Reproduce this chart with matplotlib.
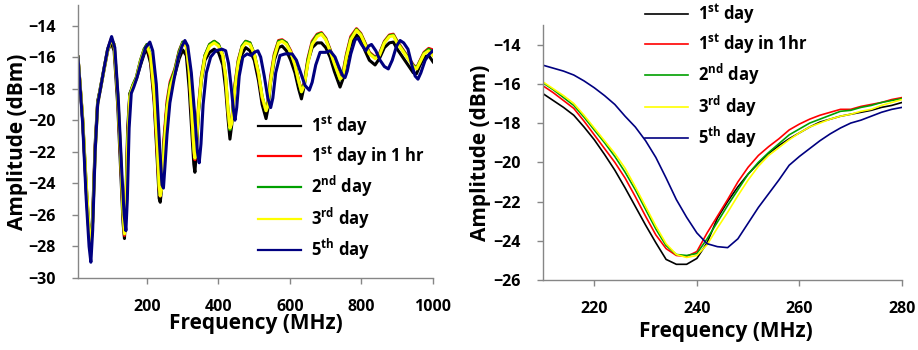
import numpy as np
import matplotlib
matplotlib.use("Agg")
import matplotlib.pyplot as plt

plt.rcParams['font.family'] = ['Open Sans', 'DejaVu Sans']
plt.rcParams['font.weight'] = 'bold'
plt.rcParams['mathtext.fontset'] = 'custom'
plt.rcParams['mathtext.rm'] = 'Open Sans:bold'
plt.rcParams['mathtext.it'] = 'Open Sans:bold'
plt.rcParams['mathtext.bf'] = 'Open Sans:bold'
plt.rcParams['mathtext.default'] = 'rm'

# -------------------------------
# Data: full sweep (left panel)
# -------------------------------
freq_full = [7, 20, 30, 38, 43, 48, 55, 62, 70, 80,
             90, 100, 108, 118, 127, 133, 137, 141, 146, 152,
             160, 170, 182, 192, 200, 210, 220, 228, 234, 237,
             242, 248, 256, 265, 278, 290, 300, 310, 318, 326,
             331, 334, 338, 344, 352, 362, 375, 388, 400, 412,
             420, 427, 432, 437, 445, 455, 466, 476, 488, 500,
             512, 522, 533, 538, 546, 556, 568, 578, 590, 602,
             614, 624, 632, 640, 650, 662, 676, 688, 700, 712,
             724, 740, 748, 758, 770, 786, 798, 810, 822, 838,
             850, 864, 878, 889, 900, 915, 930, 945, 954, 962,
             975, 988, 1000]

day1_full = [-16.0, -20.0, -24.5, -27.3, -28.0, -26.0, -21.5, -18.8, -18.0, -16.8,
             -15.6, -15.1, -15.6, -19.0, -23.5, -26.5, -27.5, -25.0, -20.5, -18.3,
             -17.9, -17.4, -16.5, -15.8, -15.5, -16.4, -18.85, -22.25, -24.95, -25.2,
             -24.1, -21.25, -19.15, -17.85, -17.1, -16.1, -15.55, -15.9, -18.0, -21.0,
             -22.8, -23.3, -22.0, -19.5, -17.5, -16.2, -15.7, -15.5, -15.7, -16.5,
             -18.0, -20.0, -21.2, -20.3, -18.2, -16.6, -15.8, -15.4, -15.6, -16.2,
             -17.5, -19.0, -19.9, -19.3, -17.6, -16.2, -15.4, -15.3, -15.6, -16.2,
             -17.0, -18.0, -18.65, -17.8, -16.3, -15.4, -15.1, -15.1, -15.4, -16.0,
             -16.9, -17.9, -17.4, -16.2, -15.2, -14.6, -14.9, -15.6, -16.2, -16.5,
             -16.1, -15.4, -15.1, -15.05, -15.5, -16.0, -16.5, -17.0, -17.05, -16.6,
             -16.0, -15.9, -16.3]

day1hr_full = [-16.0, -19.9, -24.2, -27.1, -28.0, -26.4, -21.8, -18.9, -17.9, -16.7,
               -15.5, -14.85, -15.2, -18.4, -22.8, -26.0, -27.3, -25.5, -21.0, -18.4,
               -17.8, -17.3, -16.2, -15.5, -15.2, -16.1, -18.6, -21.75, -24.4, -24.8,
               -23.6, -21.0, -18.8, -17.55, -16.75, -15.6, -15.05, -15.3, -17.0, -20.1,
               -22.0, -22.5, -21.4, -19.1, -17.2, -15.9, -15.2, -15.0, -15.2, -15.9,
               -17.4, -19.6, -20.6, -20.0, -17.9, -16.2, -15.3, -15.0, -15.1, -15.8,
               -17.1, -18.6, -19.4, -18.9, -17.2, -15.8, -14.95, -14.9, -15.1, -15.6,
               -16.5, -17.5, -18.1, -17.6, -16.1, -15.0, -14.55, -14.45, -14.8, -15.5,
               -16.3, -17.3, -17.0, -15.8, -14.7, -14.2, -14.5, -15.1, -15.7, -16.0,
               -15.8, -15.0, -14.6, -14.55, -15.0, -15.5, -16.0, -16.5, -16.7, -16.3,
               -15.7, -15.45, -15.55]

day2_full = [-16.0, -19.9, -24.1, -27.0, -28.0, -26.4, -21.9, -18.9, -17.9, -16.7,
             -15.5, -14.9, -15.2, -18.3, -22.6, -25.9, -27.2, -25.6, -21.2, -18.4,
             -17.8, -17.3, -16.2, -15.5, -15.2, -15.95, -18.35, -21.4, -24.25, -24.75,
             -23.9, -21.4, -19.05, -17.7, -16.8, -15.65, -15.05, -15.2, -16.9, -19.9,
             -21.9, -22.4, -21.5, -19.3, -17.3, -15.9, -15.2, -15.0, -15.2, -15.9,
             -17.3, -19.5, -20.6, -20.1, -18.0, -16.3, -15.3, -15.0, -15.1, -15.8,
             -17.0, -18.5, -19.4, -19.0, -17.4, -15.9, -15.0, -14.95, -15.1, -15.7,
             -16.5, -17.5, -18.2, -17.7, -16.2, -15.1, -14.6, -14.5, -14.85, -15.55,
             -16.4, -17.4, -17.1, -15.9, -14.8, -14.25, -14.55, -15.15, -15.75, -16.05,
             -15.85, -15.05, -14.65, -14.6, -15.05, -15.55, -16.05, -16.55, -16.7, -16.35,
             -15.75, -15.5, -15.7]

day3_full = [-16.0, -19.8, -24.0, -27.0, -28.0, -26.5, -22.0, -19.0, -18.0, -16.8,
             -15.6, -14.9, -15.2, -18.3, -22.5, -25.8, -27.2, -25.8, -21.5, -18.5,
             -17.9, -17.4, -16.3, -15.6, -15.3, -15.9, -18.25, -21.25, -24.15, -24.8,
             -24.2, -21.7, -19.25, -17.9, -16.95, -15.8, -15.15, -15.3, -16.8, -19.8,
             -21.8, -22.4, -21.6, -19.4, -17.4, -16.0, -15.3, -15.1, -15.3, -15.9,
             -17.2, -19.4, -20.5, -20.2, -18.2, -16.4, -15.4, -15.1, -15.2, -15.8,
             -17.0, -18.5, -19.4, -19.1, -17.5, -16.0, -15.1, -15.0, -15.2, -15.7,
             -16.5, -17.5, -18.2, -17.8, -16.4, -15.2, -14.7, -14.55, -14.9, -15.6,
             -16.4, -17.4, -17.2, -16.0, -14.9, -14.3, -14.6, -15.2, -15.8, -16.1,
             -15.9, -15.1, -14.7, -14.65, -15.1, -15.6, -16.1, -16.6, -16.75, -16.4,
             -15.8, -15.6, -15.9]

freq5_full = [7, 20, 30, 38, 43, 48, 55, 62, 70, 80,
              90, 101, 110, 120, 130, 136, 141, 145, 150, 156,
              163, 172, 185, 196, 208, 216, 226, 235, 242, 246,
              250, 256, 264, 274, 288, 298, 306, 314, 324, 334,
              341, 346, 351, 357, 366, 378, 392, 410, 420, 428,
              436, 442, 446, 451, 458, 468, 480, 492, 500, 510,
              518, 528, 538, 546, 552, 560, 572, 586, 606, 618,
              630, 642, 654, 662, 672, 684, 700, 712, 726, 738,
              748, 754, 760, 770, 782, 790, 800, 812, 820, 828,
              840, 852, 864, 875, 886, 898, 908, 918, 930, 942,
              950, 958, 966, 978, 990, 1000]

day5_full = [-16.0, -20.2, -25.0, -28.0, -29.0, -27.0, -22.0, -19.0, -18.0, -16.7,
             -15.5, -14.7, -15.4, -18.8, -23.5, -26.0, -27.0, -25.0, -20.5, -18.3,
             -17.9, -17.3, -16.2, -15.4, -15.05, -15.6, -17.7, -21.5, -24.1, -24.3,
             -23.0, -20.9, -18.9, -17.6, -16.0, -15.3, -14.95, -15.3, -17.0, -19.8,
             -22.0, -22.7, -21.5, -19.0, -17.0, -16.0, -15.6, -15.5, -15.6, -16.4,
             -18.0, -19.4, -20.0, -19.2, -17.2, -16.0, -15.8, -15.9, -15.7, -15.6,
             -16.0, -17.2, -18.6, -19.2, -18.6, -17.0, -15.9, -15.8, -15.8, -16.2,
             -17.0, -17.8, -18.1, -17.6, -16.5, -15.7, -15.7, -15.6, -16.0, -16.7,
             -17.2, -17.3, -16.9, -15.8, -14.9, -14.8, -15.2, -15.6, -15.3, -15.2,
             -15.6, -16.2, -16.6, -16.75, -16.2, -15.3, -14.95, -15.1, -15.5, -16.6,
             -17.2, -17.4, -17.0, -16.2, -15.8, -15.6]

# -------------------------------
# Data: zoom around 240 MHz (right panel)
# -------------------------------
freq_zoom = [210, 212, 214, 216, 218, 220, 222, 224, 226, 228,
             230, 232, 234, 236, 238, 240, 242, 244, 246, 248,
             250, 252, 254, 256, 258, 260, 262, 264, 266, 268,
             270, 272, 274, 276, 278, 280]

day1_zoom = [-16.5, -16.85, -17.2, -17.6, -18.2, -18.85, -19.6, -20.4, -21.3, -22.25,
             -23.2, -24.1, -24.95, -25.2, -25.2, -24.9, -24.1, -22.85, -22.0, -21.25,
             -20.6, -20.05, -19.55, -19.15, -18.8, -18.5, -18.2, -17.95, -17.8, -17.65,
             -17.55, -17.45, -17.35, -17.2, -17.1, -16.95]

day1hr_zoom = [-16.1, -16.45, -16.85, -17.25, -17.9, -18.6, -19.3, -20.0, -20.8, -21.75,
               -22.75, -23.7, -24.4, -24.75, -24.8, -24.55, -23.6, -22.75, -21.9, -21.0,
               -20.25, -19.65, -19.2, -18.8, -18.35, -18.05, -17.8, -17.6, -17.45, -17.3,
               -17.3, -17.15, -17.05, -16.95, -16.8, -16.7]

day2_zoom = [-15.95, -16.3, -16.7, -17.1, -17.7, -18.35, -19.0, -19.7, -20.5, -21.4,
             -22.4, -23.4, -24.25, -24.7, -24.75, -24.65, -23.9, -23.05, -22.2, -21.4,
             -20.6, -20.0, -19.5, -19.05, -18.6, -18.3, -18.0, -17.8, -17.6, -17.4,
             -17.35, -17.2, -17.1, -16.95, -16.85, -16.75]

day3_zoom = [-15.9, -16.25, -16.6, -17.0, -17.6, -18.25, -18.9, -19.55, -20.3, -21.25,
             -22.25, -23.25, -24.15, -24.7, -24.85, -24.75, -24.2, -23.35, -22.55, -21.7,
             -20.9, -20.2, -19.65, -19.25, -18.85, -18.5, -18.2, -18.0, -17.8, -17.65,
             -17.55, -17.4, -17.3, -17.1, -16.95, -16.8]

day5_zoom = [-15.05, -15.2, -15.35, -15.55, -15.85, -16.2, -16.6, -17.05, -17.65, -18.2,
             -18.9, -19.75, -20.8, -21.9, -22.8, -23.6, -24.15, -24.3, -24.35, -23.9,
             -23.1, -22.3, -21.6, -20.9, -20.15, -19.7, -19.3, -18.9, -18.55, -18.25,
             -18.0, -17.85, -17.65, -17.45, -17.3, -17.2]

labels_left = [r'1$^{st}$ day', r'1$^{st}$ day in 1 hr', r'2$^{nd}$ day',
               r'3$^{rd}$ day', r'5$^{th}$ day']
labels_right = [r'1$^{st}$ day', r'1$^{st}$ day in 1hr', r'2$^{nd}$ day',
                r'3$^{rd}$ day', r'5$^{th}$ day']
colors = ['#000000', '#ff0000', '#00a000', '#ffff00', '#000080']


def style_axes(ax):
    for s in ['top', 'right']:
        ax.spines[s].set_visible(False)
    for s in ['left', 'bottom']:
        ax.spines[s].set_color('#868686')
        ax.spines[s].set_linewidth(1.0)
    ax.tick_params(direction='out', length=4, width=1, color='#868686',
                   labelsize=11.5, pad=11, labelcolor='black')
    ax.tick_params(axis='y', pad=12)
    for lbl in ax.get_xticklabels() + ax.get_yticklabels():
        lbl.set_fontweight('bold')


fig = plt.figure(figsize=(9.18, 3.5), dpi=100)

# -------------------------------
# Left panel
# -------------------------------
ax1 = fig.add_axes([78/918, 1-278/350, (433-78)/918, (278-5)/350])
ys_full = [day1_full, day1hr_full, day2_full, day3_full]
for y, c, lab in zip(ys_full, colors[:4], labels_left[:4]):
    ax1.plot(freq_full, y, color=c, lw=2.2, label=lab)
ax1.plot(freq5_full, day5_full, color=colors[4], lw=2.2, label=labels_left[4])
ax1.set_xlim(7, 1000)
ax1.set_ylim(-30, -12.7)
ax1.set_xticks([200, 400, 600, 800, 1000])
ax1.set_yticks(np.arange(-30, -13, 2))
style_axes(ax1)
ax1.set_xlabel('Frequency (MHz)', fontsize=15, fontweight='bold')
ax1.set_ylabel('Amplitude (dBm)', fontsize=15, fontweight='bold')
ax1.xaxis.set_label_coords(0.5, -0.13)
ax1.yaxis.set_label_coords(-0.14, 0.5)
leg1 = ax1.legend(loc='upper left', bbox_to_anchor=(258/918, 1-114/350),
                  bbox_transform=fig.transFigure, frameon=False, fontsize=12,
                  handlelength=2.6, handletextpad=0.6, labelspacing=0.38,
                  borderpad=0, borderaxespad=0)
for h in leg1.get_lines():
    h.set_linewidth(1.6)

# -------------------------------
# Right panel
# -------------------------------
ax2 = fig.add_axes([543/918, 1-280/350, (902-543)/918, (280-25)/350])
ys_zoom = [day1_zoom, day1hr_zoom, day2_zoom, day3_zoom, day5_zoom]
for y, c, lab in zip(ys_zoom, colors, labels_right):
    ax2.plot(freq_zoom, y, color=c, lw=1.2, label=lab)
ax2.set_xlim(210, 280)
ax2.set_ylim(-26, -13)
ax2.set_xticks([220, 240, 260, 280])
ax2.set_yticks(np.arange(-26, -13, 2))
style_axes(ax2)
ax2.set_xlabel('Frequency (MHz)', fontsize=15, fontweight='bold')
ax2.set_ylabel('Amplitude (dBm)', fontsize=15, fontweight='bold')
ax2.xaxis.set_label_coords(0.51, -0.16)
ax2.yaxis.set_label_coords(-0.145, 0.5)
ax2.legend(loc='upper left', bbox_to_anchor=(645/918, 1-2/350),
           bbox_transform=fig.transFigure, frameon=False, fontsize=12,
           handlelength=2.6, handletextpad=0.6, labelspacing=0.38,
           borderpad=0, borderaxespad=0)

fig.savefig('out.png', dpi=100)
